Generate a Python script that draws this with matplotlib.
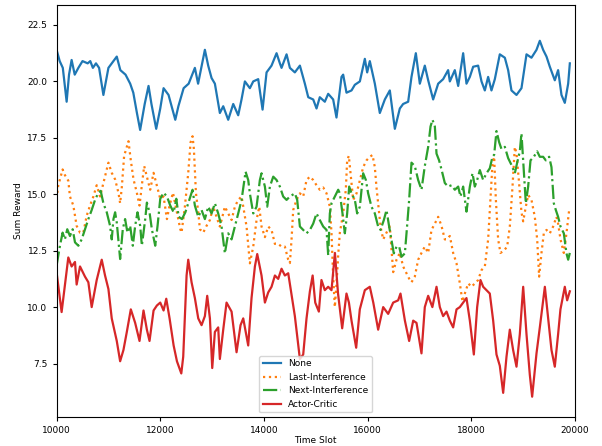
import numpy as np
import matplotlib.pyplot as plt

# values (time slot, reward)
t_none = [10000, 10060, 10120, 10194, 10240, 10290, 10350, 10420, 10500, 10600, 10650, 10700, 10760, 10820,
          10903, 10960, 11000, 11161, 11230, 11330, 11420, 11480, 11550, 11612, 11700, 11774, 11830, 11922,
          12000, 12064, 12160, 12230, 12290, 12350, 12451, 12548, 12668, 12730, 12861, 12925, 12990, 13054,
          13150, 13215, 13311, 13408, 13504, 13568, 13633, 13729, 13794, 13890, 13974, 14051, 14147, 14244,
          14308, 14340, 14437, 14501, 14597, 14694, 14790, 14855, 14951, 15015, 15078, 15175, 15240, 15336,
          15400, 15497, 15529, 15593, 15690, 15754, 15851, 15947, 15992, 16043, 16140, 16236, 16333, 16429,
          16526, 16622, 16686, 16783, 16847, 16931, 17008, 17104, 17169, 17265, 17362, 17458, 17554, 17587,
          17683, 17748, 17844, 17908, 17973, 18037, 18133, 18198, 18262, 18326, 18390, 18455, 18551, 18648,
          18712, 18776, 18873, 18969, 19066, 19162, 19259, 19323, 19387, 19452, 19516, 19612, 19676, 19741,
          19805, 19870, 19902]
none = [21.4, 20.9, 20.6, 19.1, 20.3, 20.95, 20.3, 20.6, 20.9, 20.8, 20.9, 20.6, 20.8, 20.6,
        19.4, 20.1, 20.6, 21.1, 20.5, 20.3, 19.9, 19.5, 18.6, 17.85, 19.0, 19.8, 19.0, 17.9,
        18.8, 19.7, 19.4, 18.8, 18.3, 18.9, 19.7, 19.9, 20.6, 19.9, 21.4, 20.7, 20.15, 19.9,
        18.6, 18.9, 18.3, 19.0, 18.5, 19.2, 20.0, 19.7, 20.0, 20.1, 18.75, 20.4, 20.7, 21.25,
        20.8, 20.6, 21.2, 20.6, 20.4, 20.7, 19.9, 19.3, 19.2, 18.8, 19.3, 19.1, 19.45, 19.2,
        18.4, 20.2, 20.3, 19.5, 19.6, 19.85, 20.0, 21.0, 20.4, 20.9, 19.9, 18.6, 19.2, 19.6,
        17.9, 18.8, 19.0, 19.1, 20.2, 21.25, 19.9, 20.7, 20.05, 19.2, 19.9, 20.1, 20.5, 20.0,
        20.5, 19.8, 21.25, 19.9, 20.2, 20.65, 20.7, 20.0, 19.6, 20.2, 19.6, 20.1, 21.2, 21.05,
        20.5, 19.6, 19.4, 19.7, 21.2, 21.05, 21.4, 21.8, 21.4, 21.1, 20.65, 20.05, 20.5, 19.4,
        19.05, 19.9, 20.8]

t_last = [10000, 10033, 10065, 10116, 10160, 10226, 10258, 10323, 10387, 10452, 10516, 10581, 10645, 10710,
          10774, 10839, 10903, 10968, 11000, 11064, 11129, 11193, 11226, 11258, 11303, 11355, 11387, 11432,
          11484, 11548, 11600, 11645, 11690, 11755, 11806, 11871, 11935, 12000, 12064, 12129, 12180, 12245,
          12322, 12387, 12411, 12475, 12540, 12585, 12623, 12649, 12688, 12733, 12765, 12829, 12893, 12958,
          13022, 13086, 13150, 13183, 13247, 13311, 13376, 13440, 13504, 13569, 13601, 13665, 13729, 13794,
          13858, 13910, 13954, 14019, 14083, 14147, 14212, 14276, 14340, 14404, 14469, 14501, 14533, 14565,
          14629, 14694, 14758, 14822, 14887, 14951, 15015, 15078, 15144, 15208, 15272, 15304, 15336, 15368,
          15400, 15433, 15465, 15529, 15580, 15606, 15638, 15670, 15722, 15787, 15851, 15915, 15979, 16043,
          16095, 16140, 16172, 16204, 16250, 16301, 16365, 16429, 16494, 16558, 16622, 16686, 16751, 16815,
          16847, 16911, 16976, 17040, 17104, 17169, 17233, 17298, 17362, 17426, 17490, 17523, 17587, 17651,
          17716, 17780, 17831, 17876, 17941, 18005, 18069, 18133, 18198, 18262, 18326, 18371, 18410, 18442,
          18474, 18519, 18564, 18628, 18693, 18744, 18795, 18841, 18873, 18918, 18969, 19002, 19053, 19098,
          19162, 19226, 19272, 19310, 19355, 19400, 19452, 19516, 19580, 19644, 19676, 19722, 19786, 19837,
          19889, 19902]
last = [14.8, 15.4, 15.66, 16.1, 15.85, 15.6, 14.9, 14.5, 13.6, 13.3, 13.3, 14.05, 14.5, 14.9,
        15.4, 14.9, 15.5, 16.1, 16.4, 15.95, 15.66, 15.07, 14.6, 15.3, 16.7, 17.1, 17.35, 16.5,
        15.66, 15.07, 14.5, 15.4, 16.25, 15.66, 15.2, 15.95, 15.37, 14.8, 14.9, 13.9, 14.5, 15.07,
        14.2, 13.45, 13.3, 14.45, 15.95, 17.3, 17.57, 17.0, 15.07, 14.2, 13.45, 13.3, 13.6, 13.86,
        14.45, 14.0, 13.57, 13.86, 14.45, 14.15, 13.86, 14.45, 14.75, 14.9, 14.45, 13.57, 11.94, 12.68,
        13.86, 14.45, 13.57, 13.1, 13.57, 13.42, 12.8, 12.8, 12.68, 12.68, 12.1, 11.95, 13.0, 14.3,
        14.75, 15.04, 14.9, 15.63, 15.78, 15.63, 15.4, 15.2, 15.3, 15.04, 14.45, 13.27, 11.35, 10.0,
        11.0, 12.3, 13.3, 14.15, 15.2, 16.5, 16.7, 15.95, 14.75, 15.04, 15.63, 16.2, 16.5, 16.66,
        16.74, 16.2, 15.3, 14.6, 13.57, 13.0, 13.3, 13.57, 11.55, 12.1, 12.4, 11.8, 11.5, 11.2,
        11.1, 11.35, 12.1, 12.4, 12.68, 12.4, 13.42, 13.7, 14.0, 13.6, 13.0, 13.0, 13.15, 12.4,
        11.94, 11.05, 10.24, 10.6, 11.05, 10.9, 11.05, 11.2, 11.64, 11.8, 13.0, 14.8, 16.37, 16.66,
        14.8, 13.0, 12.4, 12.5, 12.68, 13.57, 15.3, 17.1, 16.8, 15.63, 14.2, 13.8, 14.45, 14.97,
        14.75, 14.0, 13.0, 11.35, 12.4, 13.27, 13.42, 13.27, 13.57, 14.0, 13.7, 13.0, 12.4, 13.27,
        14.3, 14.4]

t_next = [10000, 10065, 10116, 10160, 10206, 10258, 10310, 10355, 10420, 10484, 10548, 10613, 10677, 10742,
          10806, 10851, 10903, 10968, 11032, 11064, 11097, 11129, 11161, 11226, 11277, 11322, 11367, 11419,
          11471, 11516, 11561, 11613, 11645, 11710, 11742, 11793, 11838, 11903, 11948, 12000, 12064, 12129,
          12193, 12258, 12310, 12355, 12419, 12484, 12540, 12623, 12668, 12733, 12797, 12861, 12926, 12990,
          13054, 13118, 13183, 13247, 13311, 13376, 13440, 13504, 13569, 13614, 13646, 13697, 13729, 13794,
          13858, 13922, 13954, 14019, 14064, 14115, 14180, 14244, 14308, 14372, 14437, 14501, 14597, 14642,
          14694, 14758, 14822, 14887, 14951, 15015, 15078, 15144, 15208, 15240, 15272, 15304, 15368, 15433,
          15465, 15516, 15561, 15606, 15645, 15690, 15754, 15799, 15851, 15915, 15967, 16011, 16075, 16140,
          16204, 16250, 16314, 16365, 16416, 16461, 16506, 16558, 16610, 16654, 16719, 16751, 16802, 16847,
          16911, 16976, 17040, 17104, 17169, 17214, 17252, 17298, 17330, 17380, 17426, 17490, 17554, 17620,
          17683, 17748, 17792, 17844, 17908, 17973, 18024, 18069, 18114, 18166, 18230, 18294, 18358, 18410,
          18442, 18487, 18539, 18584, 18648, 18712, 18776, 18841, 18886, 18937, 18969, 19014, 19053, 19098,
          19143, 19207, 19272, 19323, 19387, 19439, 19503, 19548, 19593, 19632, 19676, 19722, 19786, 19837,
          19870, 19902]
nxt = [11.84, 12.72, 13.3, 13.0, 13.45, 13.15, 13.45, 12.87, 12.72, 13.0, 13.45, 13.9, 14.3, 14.75,
       15.07, 15.15, 14.6, 14.2, 13.6, 13.0, 13.9, 14.2, 13.75, 12.13, 13.45, 13.9, 13.3, 13.6,
       12.72, 13.6, 14.2, 13.6, 12.72, 13.9, 14.63, 14.2, 13.45, 12.72, 13.6, 14.8, 15.07, 14.9,
       14.5, 14.2, 14.8, 14.0, 13.9, 14.2, 14.6, 15.2, 14.5, 14.0, 14.3, 13.9, 14.45, 14.15,
       14.6, 14.15, 13.57, 12.38, 13.27, 13.0, 13.57, 14.15, 14.75, 15.5, 16.0, 15.63, 15.04, 14.15,
       14.45, 15.63, 15.93, 15.34, 14.45, 15.34, 15.78, 15.63, 15.34, 14.9, 14.75, 14.9, 15.04, 14.75,
       13.57, 13.42, 13.27, 13.42, 13.7, 14.15, 13.86, 13.57, 13.42, 12.3, 14.15, 14.6, 14.9, 15.2,
       15.04, 14.15, 13.27, 14.15, 15.34, 15.04, 14.75, 14.15, 14.45, 15.93, 15.63, 15.04, 14.45, 14.15,
       13.57, 13.42, 13.86, 14.3, 13.57, 12.97, 12.38, 12.68, 12.68, 12.23, 12.38, 13.27, 14.75, 16.4,
       16.25, 15.63, 15.2, 16.25, 17.1, 18.0, 18.3, 18.0, 16.8, 16.5, 16.1, 15.5, 15.34, 15.4,
       15.2, 15.34, 14.9, 15.34, 14.23, 15.34, 15.93, 15.34, 15.63, 16.07, 15.63, 15.93, 16.15, 16.66,
       16.75, 17.8, 17.3, 17.0, 17.1, 16.6, 16.3, 15.93, 16.4, 16.9, 17.7, 16.0, 14.6, 15.34,
       16.5, 16.66, 16.9, 16.66, 16.66, 16.5, 16.66, 16.2, 14.6, 14.3, 14.0, 13.57, 13.27, 12.38,
       12.1, 12.4]

t_ac = [10000, 10097, 10226, 10290, 10355, 10387, 10452, 10548, 10613, 10677, 10774, 10871, 10935, 11000,
        11064, 11161, 11226, 11290, 11355, 11432, 11516, 11600, 11677, 11742, 11793, 11871, 11935, 12000,
        12064, 12116, 12180, 12258, 12322, 12406, 12443, 12508, 12540, 12604, 12668, 12733, 12797, 12861,
        12906, 12958, 13003, 13054, 13118, 13150, 13215, 13279, 13376, 13472, 13549, 13601, 13697, 13761,
        13826, 13871, 13954, 14019, 14083, 14147, 14212, 14276, 14340, 14404, 14469, 14597, 14694, 14758,
        14822, 14887, 14940, 14990, 15060, 15110, 15175, 15240, 15304, 15370, 15430, 15510, 15593, 15640,
        15690, 15780, 15850, 15947, 16043, 16110, 16204, 16301, 16397, 16494, 16590, 16635, 16720, 16802,
        16880, 16944, 17040, 17104, 17169, 17250, 17330, 17394, 17458, 17523, 17587, 17651, 17716, 17780,
        17844, 17908, 17973, 18050, 18114, 18178, 18230, 18294, 18358, 18423, 18487, 18551, 18616, 18680,
        18744, 18808, 18873, 18937, 19002, 19066, 19130, 19175, 19259, 19323, 19420, 19484, 19548, 19612,
        19676, 19721, 19805, 19850, 19902]
ac = [11.54, 9.78, 12.2, 11.8, 12.0, 11.0, 11.8, 11.35, 11.1, 10.0, 11.2, 12.1, 11.4, 10.8,
      9.5, 8.5, 7.6, 8.1, 8.9, 9.9, 9.3, 8.5, 9.85, 9.0, 8.5, 9.85, 10.07, 10.2,
      9.85, 10.37, 9.5, 8.3, 7.6, 7.06, 7.8, 11.4, 12.1, 11.1, 10.4, 9.5, 9.2, 9.6,
      10.5, 9.5, 7.3, 8.9, 9.1, 7.7, 9.0, 10.2, 9.8, 8.0, 9.2, 9.5, 8.3, 10.4,
      11.8, 12.35, 11.4, 10.2, 10.65, 10.9, 11.4, 11.25, 11.7, 11.4, 11.5, 9.6, 7.7, 7.9,
      9.5, 10.7, 11.4, 10.2, 9.8, 11.2, 10.75, 10.9, 10.75, 12.4, 10.6, 9.06, 10.6, 10.2,
      9.4, 8.2, 9.9, 10.75, 10.9, 10.2, 9.0, 10.0, 9.7, 10.2, 10.3, 10.6, 9.4, 8.5,
      9.4, 9.3, 7.95, 10.0, 10.5, 10.0, 10.9, 10.0, 9.6, 9.8, 9.4, 9.1, 9.9, 10.0,
      10.2, 10.4, 9.4, 7.9, 10.0, 11.2, 10.9, 10.75, 10.6, 9.4, 7.9, 7.4, 6.2, 7.8,
      9.0, 8.1, 7.36, 8.8, 10.9, 8.8, 7.0, 6.03, 7.95, 9.1, 10.9, 9.5, 8.1, 7.36,
      8.8, 9.9, 10.9, 10.3, 10.7]

labels = ['None', 'Last-Interference', 'Next-Interference', 'Actor-Critic']

fig = plt.figure(figsize=(6.02, 4.46), dpi=100)
ax = fig.add_axes([0.094, 0.065, 0.861, 0.924])

ax.plot(t_none, none, color='#1f77b4', lw=1.6, label=labels[0])
ax.plot(t_last, last, color='#ff7f0e', lw=1.6, ls=':', label=labels[1])
ax.plot(t_next, nxt, color='#2ca02c', lw=1.6, ls='-.', label=labels[2])
ax.plot(t_ac, ac, color='#d62728', lw=1.6, label=labels[3])

ax.set_xlim(10000, 20000)
ax.set_ylim(5.13, 23.39)
ax.set_xticks([10000, 12000, 14000, 16000, 18000, 20000])
ax.set_yticks([7.5, 10.0, 12.5, 15.0, 17.5, 20.0, 22.5])
ax.tick_params(labelsize=6.5, length=3)
ax.set_xlabel('Time Slot', fontsize=6.5, labelpad=1)
ax.set_ylabel('Sum Reward', fontsize=6.5, labelpad=3)
ax.legend(loc='lower center', fontsize=6.5)

fig.savefig('out.png', dpi=100)
